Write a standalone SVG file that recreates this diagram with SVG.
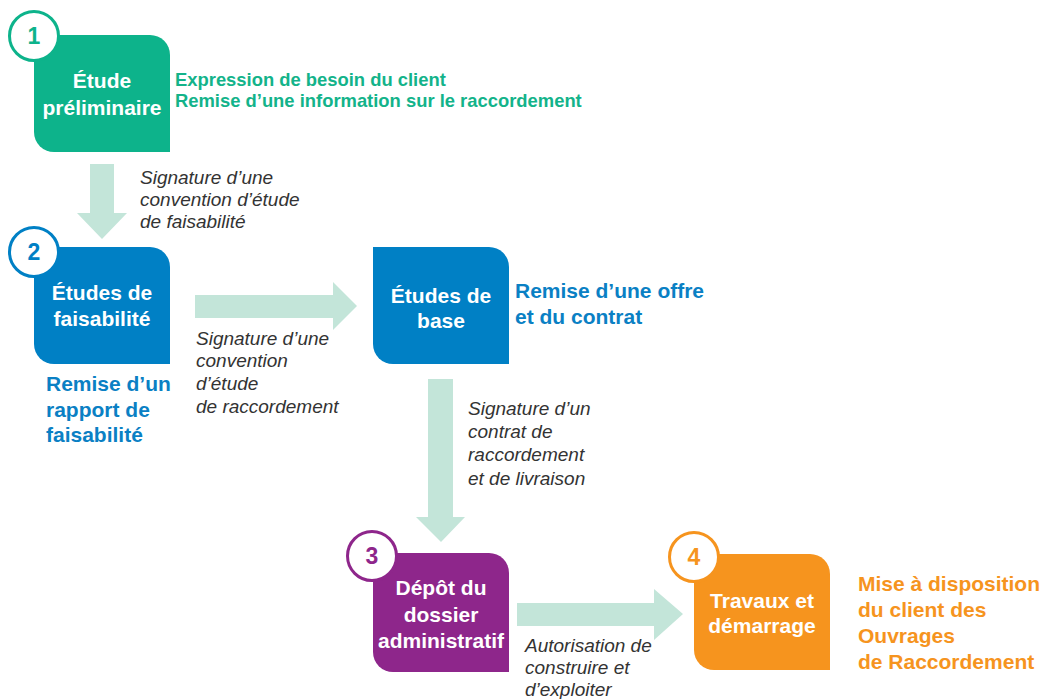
<svg xmlns="http://www.w3.org/2000/svg" width="1044" height="699" viewBox="0 0 1044 699">
<style>
.box-t{font-family:"Liberation Sans",Arial,sans-serif;font-weight:bold;font-size:21px;fill:#fff;text-anchor:middle}
.num{font-family:"Liberation Sans",Arial,sans-serif;font-weight:bold;font-size:23px;text-anchor:middle}
.desc{font-family:"Liberation Sans",Arial,sans-serif;font-weight:bold;font-size:21px}
.lbl{font-family:"Liberation Sans",Arial,sans-serif;font-style:italic;font-size:19px;fill:#333}
.arrow{fill:#c3e5d9}
.ring{fill:#fff;stroke-width:3}
</style>
<rect width="1044" height="699" fill="#fff"/>
<g id="connectors">
  <polygon class="arrow" points="90,164 114,164 114,213 127,213 102,239 77,213 90,213"/>
  <polygon class="arrow" points="195,295 333,295 333,282 357,306 333,330 333,318 195,318"/>
  <polygon class="arrow" points="428,379 453,379 453,517 465,517 441,542 416,517 428,517"/>
  <polygon class="arrow" points="517,603 654,603 654,589 683,614 654,640 654,626 517,626"/>
  <text class="lbl"><tspan x="140" y="184">Signature d’une</tspan><tspan x="140" y="206">convention d’étude</tspan><tspan x="140" y="228">de faisabilité</tspan></text>
  <text class="lbl"><tspan x="196" y="345">Signature d’une</tspan><tspan x="196" y="367">convention</tspan><tspan x="196" y="390">d’étude</tspan><tspan x="196" y="413">de raccordement</tspan></text>
  <text class="lbl"><tspan x="468" y="415">Signature d’un</tspan><tspan x="468" y="438">contrat de</tspan><tspan x="468" y="461">raccordement</tspan><tspan x="468" y="485">et de livraison</tspan></text>
  <text class="lbl"><tspan x="525" y="652">Autorisation de</tspan><tspan x="525" y="674">construire et</tspan><tspan x="525" y="696">d’exploiter</tspan></text>
</g>
<g id="node1">
  <path d="M34,35 H150 A20,20 0 0 1 170,55 V152 H54 A20,20 0 0 1 34,132 Z" fill="#0db38b"/>
  <circle class="ring" cx="34" cy="36" r="24.5" stroke="#0db38b"/>
  <text class="num" x="34" y="44" fill="#0db38b">1</text>
  <text class="box-t"><tspan x="102" y="88">Étude</tspan><tspan x="102" y="115">préliminaire</tspan></text>
  <text class="desc" style="font-size:18.4px" fill="#13b38a"><tspan x="175" y="86">Expression de besoin du client</tspan><tspan x="175" y="107">Remise d’une information sur le raccordement</tspan></text>
</g>
<g id="node2">
  <path d="M34,247 H150 A20,20 0 0 1 170,267 V364 H54 A20,20 0 0 1 34,344 Z" fill="#0080c5"/>
  <circle class="ring" cx="34" cy="252" r="24.5" stroke="#0080c5"/>
  <text class="num" x="34" y="260" fill="#0080c5">2</text>
  <text class="box-t"><tspan x="102" y="300">Études de</tspan><tspan x="102" y="326">faisabilité</tspan></text>
  <text class="desc" fill="#0a80c4"><tspan x="46" y="391">Remise d’un</tspan><tspan x="46" y="417">rapport de</tspan><tspan x="46" y="442">faisabilité</tspan></text>
</g>
<g id="node-base">
  <path d="M373,247 H489 A20,20 0 0 1 509,267 V364 H393 A20,20 0 0 1 373,344 Z" fill="#0080c5"/>
  <text class="box-t"><tspan x="441" y="303">Études de</tspan><tspan x="441" y="328">base</tspan></text>
  <text class="desc" fill="#0a80c4"><tspan x="515" y="298">Remise d’une offre</tspan><tspan x="515" y="324">et du contrat</tspan></text>
</g>
<g id="node3">
  <path d="M373,553 H489 A20,20 0 0 1 509,573 V672 H393 A20,20 0 0 1 373,652 Z" fill="#8e268b"/>
  <circle class="ring" cx="372" cy="556" r="24.5" stroke="#8e268b"/>
  <text class="num" x="372" y="564" fill="#8e268b">3</text>
  <text class="box-t"><tspan x="441" y="595">Dépôt du</tspan><tspan x="441" y="622">dossier</tspan><tspan x="441" y="648">administratif</tspan></text>
</g>
<g id="node4">
  <path d="M694,554 H810 A20,20 0 0 1 830,574 V670 H714 A20,20 0 0 1 694,650 Z" fill="#f6941e"/>
  <circle class="ring" cx="694" cy="557" r="24.5" stroke="#f6941e"/>
  <text class="num" x="694" y="565" fill="#f6941e">4</text>
  <text class="box-t"><tspan x="762" y="608">Travaux et</tspan><tspan x="762" y="633">démarrage</tspan></text>
  <text class="desc" fill="#f6941e"><tspan x="858" y="591">Mise à disposition</tspan><tspan x="858" y="617">du client des</tspan><tspan x="858" y="643">Ouvrages</tspan><tspan x="858" y="669">de Raccordement</tspan></text>
</g>
</svg>
